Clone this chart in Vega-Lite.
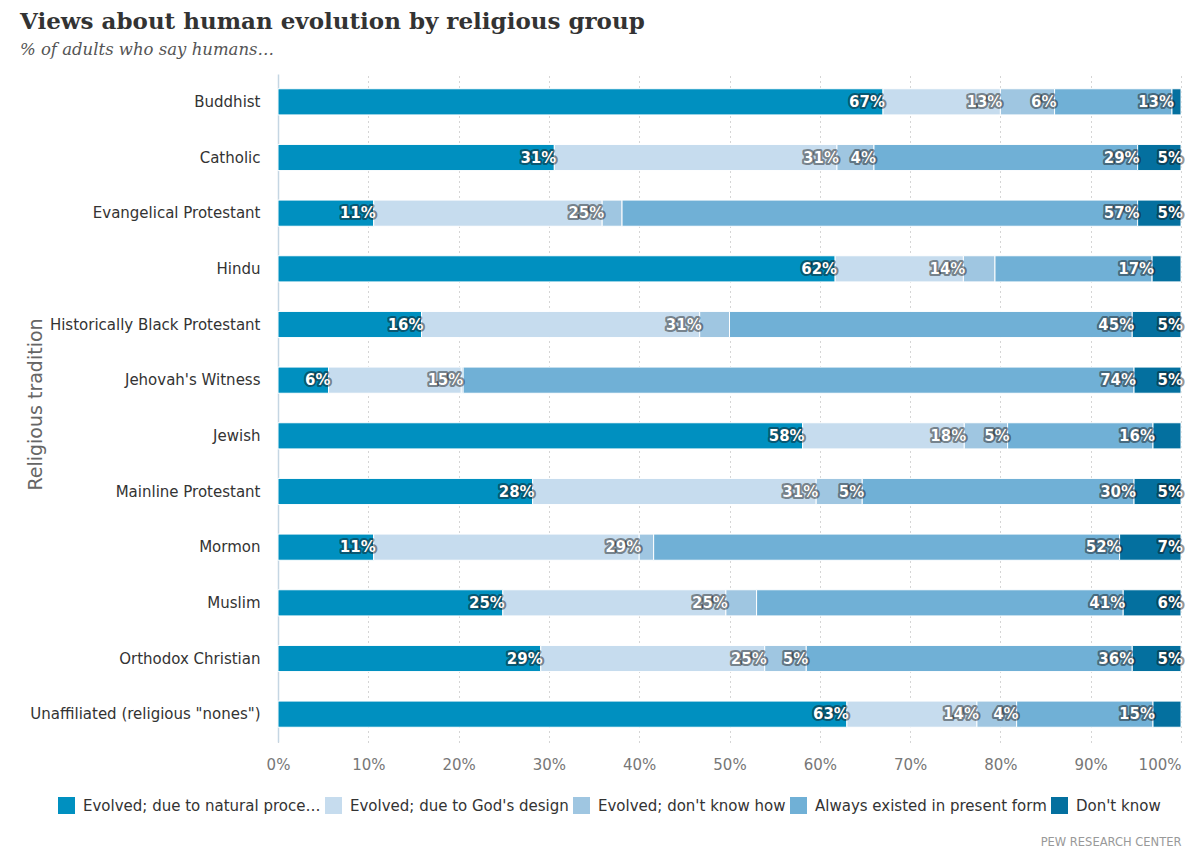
{
  "$schema": "https://vega.github.io/schema/vega-lite/v6.json",
  "width": 903,
  "height": 668,
  "autosize": "none",
  "padding": {"left": 278, "top": 74, "right": 19, "bottom": 111},
  "background": "white",
  "title": {
    "text": "Views about human evolution by religious group",
    "subtitle": "% of adults who say humans…",
    "anchor": "start",
    "frame": "group",
    "dx": -258,
    "offset": 16,
    "font": "DejaVu Serif",
    "fontSize": 23,
    "fontWeight": "bold",
    "color": "#333333",
    "subtitleFont": "DejaVu Serif",
    "subtitleFontSize": 16.5,
    "subtitleFontStyle": "italic",
    "subtitleColor": "#555555",
    "subtitlePadding": 8
  },
  "config": {
    "view": {"stroke": null},
    "font": "DejaVu Sans"
  },
  "data": {
    "values": [
      {"religion": "Buddhist", "view": "Evolved; due to natural processes", "k": 1, "value": 67},
      {"religion": "Buddhist", "view": "Evolved; due to God's design", "k": 2, "value": 13},
      {"religion": "Buddhist", "view": "Evolved; don't know how", "k": 3, "value": 6},
      {"religion": "Buddhist", "view": "Always existed in present form", "k": 4, "value": 13},
      {"religion": "Buddhist", "view": "Don't know", "k": 5, "value": 1},
      {"religion": "Catholic", "view": "Evolved; due to natural processes", "k": 1, "value": 30.6},
      {"religion": "Catholic", "view": "Evolved; due to God's design", "k": 2, "value": 31.3},
      {"religion": "Catholic", "view": "Evolved; don't know how", "k": 3, "value": 4.1},
      {"religion": "Catholic", "view": "Always existed in present form", "k": 4, "value": 29.2},
      {"religion": "Catholic", "view": "Don't know", "k": 5, "value": 4.8},
      {"religion": "Evangelical Protestant", "view": "Evolved; due to natural processes", "k": 1, "value": 10.6},
      {"religion": "Evangelical Protestant", "view": "Evolved; due to God's design", "k": 2, "value": 25.3},
      {"religion": "Evangelical Protestant", "view": "Evolved; don't know how", "k": 3, "value": 2.2},
      {"religion": "Evangelical Protestant", "view": "Always existed in present form", "k": 4, "value": 57.1},
      {"religion": "Evangelical Protestant", "view": "Don't know", "k": 5, "value": 4.8},
      {"religion": "Hindu", "view": "Evolved; due to natural processes", "k": 1, "value": 61.7},
      {"religion": "Hindu", "view": "Evolved; due to God's design", "k": 2, "value": 14.2},
      {"religion": "Hindu", "view": "Evolved; don't know how", "k": 3, "value": 3.5},
      {"religion": "Hindu", "view": "Always existed in present form", "k": 4, "value": 17.4},
      {"religion": "Hindu", "view": "Don't know", "k": 5, "value": 3.2},
      {"religion": "Historically Black Protestant", "view": "Evolved; due to natural processes", "k": 1, "value": 15.9},
      {"religion": "Historically Black Protestant", "view": "Evolved; due to God's design", "k": 2, "value": 30.8},
      {"religion": "Historically Black Protestant", "view": "Evolved; don't know how", "k": 3, "value": 3.3},
      {"religion": "Historically Black Protestant", "view": "Always existed in present form", "k": 4, "value": 44.6},
      {"religion": "Historically Black Protestant", "view": "Don't know", "k": 5, "value": 5.4},
      {"religion": "Jehovah's Witness", "view": "Evolved; due to natural processes", "k": 1, "value": 5.6},
      {"religion": "Jehovah's Witness", "view": "Evolved; due to God's design", "k": 2, "value": 14.7},
      {"religion": "Jehovah's Witness", "view": "Evolved; don't know how", "k": 3, "value": 0.2},
      {"religion": "Jehovah's Witness", "view": "Always existed in present form", "k": 4, "value": 74.3},
      {"religion": "Jehovah's Witness", "view": "Don't know", "k": 5, "value": 5.2},
      {"religion": "Jewish", "view": "Evolved; due to natural processes", "k": 1, "value": 58.1},
      {"religion": "Jewish", "view": "Evolved; due to God's design", "k": 2, "value": 17.9},
      {"religion": "Jewish", "view": "Evolved; don't know how", "k": 3, "value": 4.8},
      {"religion": "Jewish", "view": "Always existed in present form", "k": 4, "value": 16.1},
      {"religion": "Jewish", "view": "Don't know", "k": 5, "value": 3.1},
      {"religion": "Mainline Protestant", "view": "Evolved; due to natural processes", "k": 1, "value": 28.2},
      {"religion": "Mainline Protestant", "view": "Evolved; due to God's design", "k": 2, "value": 31.4},
      {"religion": "Mainline Protestant", "view": "Evolved; don't know how", "k": 3, "value": 5.1},
      {"religion": "Mainline Protestant", "view": "Always existed in present form", "k": 4, "value": 30.1},
      {"religion": "Mainline Protestant", "view": "Don't know", "k": 5, "value": 5.2},
      {"religion": "Mormon", "view": "Evolved; due to natural processes", "k": 1, "value": 10.6},
      {"religion": "Mormon", "view": "Evolved; due to God's design", "k": 2, "value": 29.4},
      {"religion": "Mormon", "view": "Evolved; don't know how", "k": 3, "value": 1.6},
      {"religion": "Mormon", "view": "Always existed in present form", "k": 4, "value": 51.6},
      {"religion": "Mormon", "view": "Don't know", "k": 5, "value": 6.8},
      {"religion": "Muslim", "view": "Evolved; due to natural processes", "k": 1, "value": 24.9},
      {"religion": "Muslim", "view": "Evolved; due to God's design", "k": 2, "value": 24.7},
      {"religion": "Muslim", "view": "Evolved; don't know how", "k": 3, "value": 3.4},
      {"religion": "Muslim", "view": "Always existed in present form", "k": 4, "value": 40.6},
      {"religion": "Muslim", "view": "Don't know", "k": 5, "value": 6.4},
      {"religion": "Orthodox Christian", "view": "Evolved; due to natural processes", "k": 1, "value": 29.1},
      {"religion": "Orthodox Christian", "view": "Evolved; due to God's design", "k": 2, "value": 24.8},
      {"religion": "Orthodox Christian", "view": "Evolved; don't know how", "k": 3, "value": 4.6},
      {"religion": "Orthodox Christian", "view": "Always existed in present form", "k": 4, "value": 36.1},
      {"religion": "Orthodox Christian", "view": "Don't know", "k": 5, "value": 5.4},
      {"religion": "Unaffiliated (religious \"nones\")", "view": "Evolved; due to natural processes", "k": 1, "value": 63.0},
      {"religion": "Unaffiliated (religious \"nones\")", "view": "Evolved; due to God's design", "k": 2, "value": 14.4},
      {"religion": "Unaffiliated (religious \"nones\")", "view": "Evolved; don't know how", "k": 3, "value": 4.4},
      {"religion": "Unaffiliated (religious \"nones\")", "view": "Always existed in present form", "k": 4, "value": 15.1},
      {"religion": "Unaffiliated (religious \"nones\")", "view": "Don't know", "k": 5, "value": 3.1}
    ]
  },
  "transform": [
    {"stack": "value", "groupby": ["religion"], "sort": [{"field": "k", "order": "ascending"}], "as": ["x0", "x1"]},
    {"calculate": "format(datum.value, '.0f') + '%'", "as": "label"}
  ],
  "encoding": {
    "y": {
      "field": "religion",
      "type": "nominal",
      "sort": null,
      "scale": {"paddingInner": 0.53, "paddingOuter": 0.265},
      "axis": {
        "title": "Religious tradition",
        "titleFont": "DejaVu Sans",
        "titleFontSize": 19,
        "titleFontWeight": "normal",
        "titleColor": "#666666",
        "titleX": -243,
        "titleY": 330,
        "titleAngle": -90,
        "titleAlign": "center",
        "titleBaseline": "middle",
        "labelFont": "DejaVu Sans",
        "labelFontSize": 15,
        "labelColor": "#333333",
        "labelPadding": 18,
        "labelLimit": 300,
        "ticks": false,
        "domain": true,
        "domainColor": "#c5d6e3",
        "domainWidth": 1.5,
        "grid": false
      }
    }
  },
  "layer": [
    {
      "mark": {"type": "bar", "stroke": "white", "strokeWidth": 1},
      "encoding": {
        "x": {
          "field": "x0",
          "type": "quantitative",
          "scale": {"domain": [0, 100], "nice": false},
          "axis": {
            "values": [0, 10, 20, 30, 40, 50, 60, 70, 80, 90, 100],
            "labelExpr": "datum.value + '%'",
            "labelFlush": false,
            "labelAlign": {"expr": "datum.value == 100 ? 'right' : 'center'"},
            "labelFont": "DejaVu Sans",
            "labelFontSize": 15,
            "labelColor": "#777777",
            "labelPadding": 15,
            "ticks": false,
            "domain": false,
            "grid": true,
            "gridColor": "#aaaaaa",
            "gridDash": [1, 4],
            "gridWidth": 1,
            "title": "PEW RESEARCH CENTER",
            "titleFont": "DejaVu Sans",
            "titleFontSize": 11.5,
            "titleFontWeight": "normal",
            "titleColor": "#999999",
            "titleAnchor": "end",
            "titleAlign": "right",
            "titleBaseline": "middle",
            "titleX": 903,
            "titleY": 100
          }
        },
        "x2": {"field": "x1"},
        "color": {
          "field": "view",
          "type": "nominal",
          "sort": ["Evolved; due to natural processes", "Evolved; due to God's design", "Evolved; don't know how", "Always existed in present form", "Don't know"],
          "scale": {
            "domain": ["Evolved; due to natural processes", "Evolved; due to God's design", "Evolved; don't know how", "Always existed in present form", "Don't know"],
            "range": ["#0090c0", "#c6dcee", "#9fc6e1", "#70b0d6", "#04709f"]
          },
          "legend": {
            "title": null,
            "orient": "none",
            "direction": "horizontal",
            "columns": 5,
            "legendX": -220,
            "legendY": 723,
            "symbolType": "square",
            "symbolSize": 289,
            "symbolStrokeWidth": 0,
            "symbolOpacity": 1,
            "labelFont": "DejaVu Sans",
            "labelFontSize": 15,
            "labelColor": "#333333",
            "labelLimit": 240,
            "labelOffset": 8,
            "columnPadding": 4
          }
        }
      }
    },
    {
      "transform": [{"filter": "datum.value >= 3.8"}],
      "mark": {"type": "text", "align": "right", "baseline": "middle", "dx": 2, "font": "DejaVu Sans", "fontSize": 15, "fontWeight": "bold", "fill": "#222222", "stroke": "#111111", "strokeWidth": 4, "strokeOpacity": 0.45, "strokeJoin": "round"},
      "encoding": {
        "x": {"field": "x1", "type": "quantitative"},
        "text": {"field": "label"}
      }
    },
    {
      "transform": [{"filter": "datum.value >= 3.8"}],
      "mark": {"type": "text", "align": "right", "baseline": "middle", "dx": 2, "font": "DejaVu Sans", "fontSize": 15, "fontWeight": "bold", "fill": "white"},
      "encoding": {
        "x": {"field": "x1", "type": "quantitative"},
        "text": {"field": "label"}
      }
    }
  ]
}
